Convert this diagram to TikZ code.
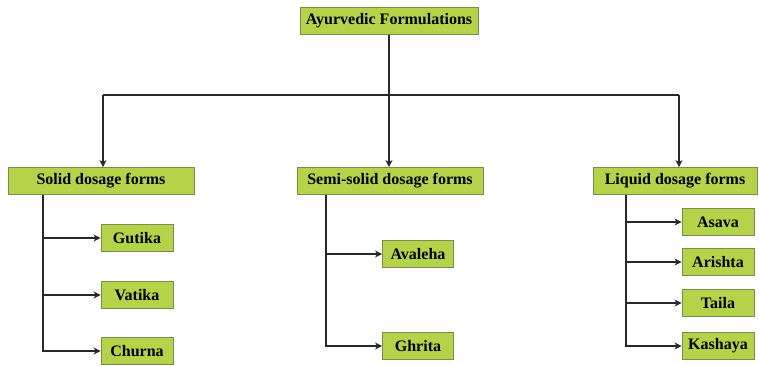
\documentclass[tikz,border=0pt]{standalone}
\usepackage{fontspec}
\setmainfont{Liberation Serif}
\usepackage{tikz}
\usetikzlibrary{positioning, arrows.meta}
\definecolor{BoxColor}{RGB}{181,211,72}
\definecolor{BoxBorder}{RGB}{120,140,80}
\definecolor{LineColor}{RGB}{40,40,40}
\tikzstyle{arrow} = [line width=1.8pt, LineColor, ->, >={Stealth[length=7pt, width=7pt, inset=2pt]}]
\tikzstyle{link} = [line width=1.8pt, LineColor]
\tikzset{
  formbox/.style={rectangle, fill=BoxColor, draw=BoxBorder, line width=0.8pt, minimum height=27pt, inner sep=0pt, font=\bfseries\fontsize{16}{17}\selectfont},
  itembox/.style={formbox, minimum height=27pt}
}

\begin{document}
\begin{tikzpicture}[x=1pt, y=-1pt]
  \useasboundingbox (0,0) rectangle (759,365);

  % Top box
  \node[formbox, minimum width=178pt] (root) at (389,21) {Ayurvedic Formulations};

  % Dosage form boxes
  \node[formbox, minimum width=186pt] (solid) at (101,181) {Solid dosage forms};
  \node[formbox, minimum width=186pt] (semi) at (390,181) {Semi-solid dosage forms};
  \node[formbox, minimum width=164pt] (liquid) at (675,181) {Liquid dosage forms};

  % Solid items
  \node[itembox, minimum width=72pt] (gutika) at (137,238) {Gutika};
  \node[itembox, minimum width=72pt] (vatika) at (137,295) {Vatika};
  \node[itembox, minimum width=72pt] (churna) at (137,351) {Churna};

  % Semi-solid items
  \node[itembox, minimum width=71pt] (avaleha) at (418,254) {Avaleha};
  \node[itembox, minimum width=71pt] (ghrita) at (418,346) {Ghrita};

  % Liquid items
  \node[itembox, minimum width=72pt] (asava) at (718,222) {Asava};
  \node[itembox, minimum width=72pt] (arishta) at (718,262) {Arishta};
  \node[itembox, minimum width=72pt] (taila) at (718,303) {Taila};
  \node[itembox, minimum width=72pt] (kashaya) at (718,346) {Kashaya};

  % Bar under the top box
  \coordinate (barL) at (103,95);
  \coordinate (barR) at (679,95);
  \draw[arrow] (root) -- (root|-solid.north);
  \draw[link] (barL) -- (barR);
  \draw[arrow] (barL) -- (barL|-solid.north);
  \draw[arrow] (barR) -- (barR|-liquid.north);

  % Branches
  \coordinate (solidT) at (43,195);
  \coordinate (semiT) at (326,195);
  \coordinate (liquidT) at (626,195);
  \foreach \item in {gutika, vatika, churna}
    \draw[arrow] (solidT) |- (\item.west);
  \foreach \item in {avaleha, ghrita}
    \draw[arrow] (semiT) |- (\item.west);
  \foreach \item in {asava, arishta, taila, kashaya}
    \draw[arrow] (liquidT) |- (\item.west);
\end{tikzpicture}
\end{document}
